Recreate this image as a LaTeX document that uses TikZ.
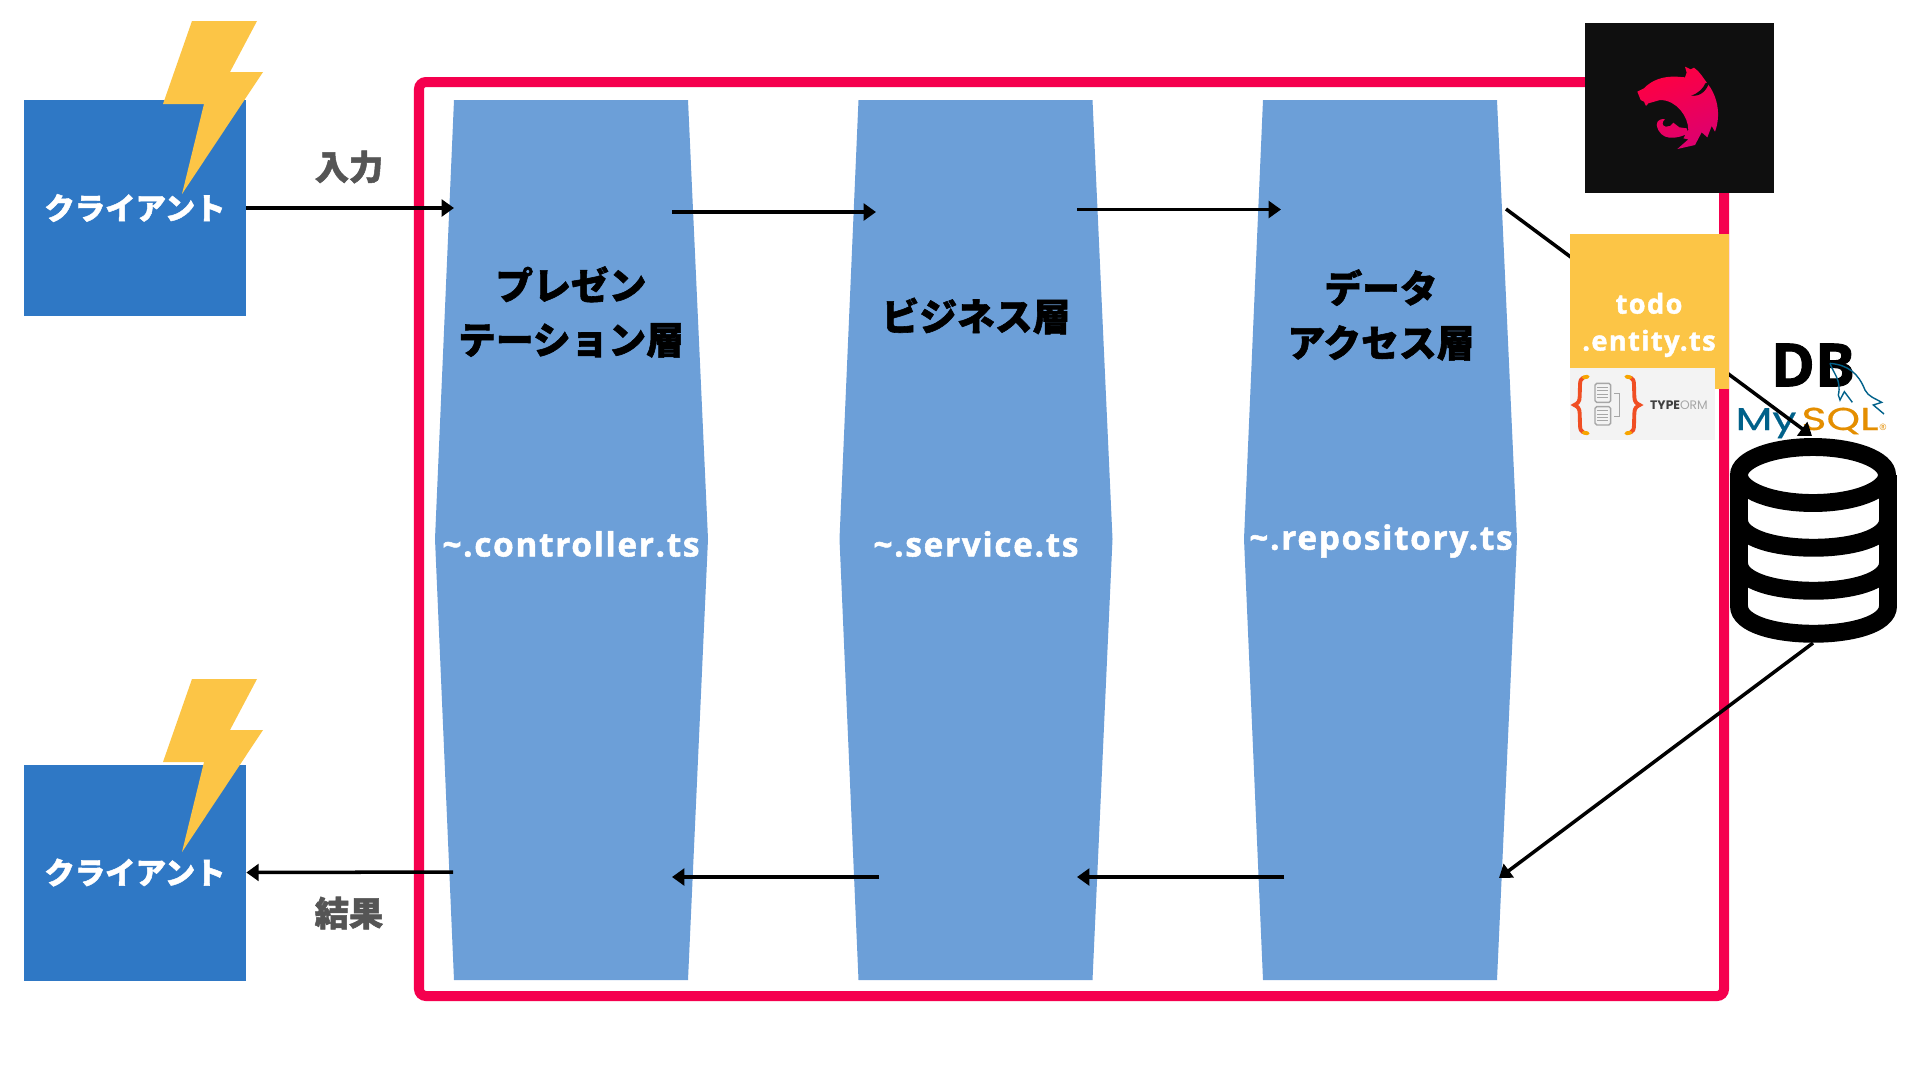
\documentclass[tikz,border=0pt]{standalone}
\usepackage{fontspec}
\usetikzlibrary{arrows.meta}
\setmainfont{Open Sans}[BoldFeatures={FakeBold=1.5}]
\newfontfamily\filefont{Open Sans}[LetterSpace=5,BoldFeatures={FakeBold=1.5}]
\newfontfamily\jpfont{Noto Sans CJK JP}[BoldFeatures={FakeBold=1.5}]
\newfontfamily\logofont{Poppins}
\newfontfamily\mysqlfont{Poppins}[FakeStretch=1.35,FakeBold=0.6]
\definecolor{clientblue}{HTML}{2F78C5}
\definecolor{layerblue}{HTML}{6C9FD8}
\definecolor{framered}{HTML}{F5004E}
\definecolor{boltyellow}{HTML}{FCC546}
\definecolor{labelgray}{HTML}{555555}
\definecolor{nestblack}{HTML}{0F0F0F}
\definecolor{nestred}{HTML}{FF0040}
\definecolor{nestpink}{HTML}{DC0070}
\definecolor{ormgray}{HTML}{F3F3F3}
\definecolor{ormred}{HTML}{F04E23}
\definecolor{ormorange}{HTML}{F7A500}
\definecolor{mysqlblue}{HTML}{00618A}
\definecolor{mysqlorange}{HTML}{E48E00}
\tikzset{
  clientbox/.style={fill=clientblue,text=white,inner sep=0pt,minimum width=222*0.02cm,minimum height=216*0.02cm,
    font=\jpfont\bfseries\fontsize{17.3}{20}\selectfont},
  flow/.style={line width=2pt,-{Triangle[length=7pt,width=9.5pt]}},
  layertitle/.style={align=center,inner sep=0pt,font=\jpfont\bfseries\fontsize{21.5}{31}\selectfont},
  layerfile/.style={text=white,inner sep=0pt,font=\filefont\bfseries\fontsize{19}{22}\selectfont},
  sidelabel/.style={text=labelgray,inner sep=0pt,font=\jpfont\bfseries\fontsize{19.5}{22}\selectfont},
  mysqlname/.style={inner sep=0pt,anchor=base,font=\mysqlfont\fontsize{18}{20}\selectfont},
  dbline/.style={line width=10.2pt},
  ormbrace/.style={ormred,line width=2.2pt},
  ormtip/.style={ormorange,line width=2.2pt,line cap=round},
  zoomed/.style={x=0.02cm/3,y=-0.02cm/3},
}
\begin{document}
\begin{tikzpicture}[x=0.02cm,y=-0.02cm]
  \fill[white] (0,0) rectangle (1920,1080);
  \useasboundingbox (0,0) rectangle (1920,1080);
  % frame
  \draw[framered,line width=5.7pt,rounded corners=4pt] (419,82) rectangle (1724,996);
  % clients
  \node[clientbox] (clienta) at (135,208) {クライアント};
  \node[clientbox] (clientb) at (135,872.5) {クライアント};
  \foreach \dy in {0,658}
    \fill[boltyellow,shift={(0,\dy)}] (192,21) -- (257,21) -- (230,72) -- (263,72) -- (182,194) -- (204,104) -- (163,104) -- cycle;
  % layers
  \foreach \dx in {0,404.5,809}
    \fill[layerblue,shift={(\dx,0)}] (454,100) -- (688,100) -- (708,539) -- (688,980) -- (454,980) -- (435,539) -- cycle;
  \node[layertitle] (presname) at (571,312) {プレゼン\\テーション層};
  \node[layertitle] (bizname) at (976,316) {ビジネス層};
  \node[layertitle] (dataname) at (1381,315) {データ\\アクセス層};
  \node[layerfile] (presfile) at (571,544) {\textasciitilde.controller.ts};
  \node[layerfile] (bizfile) at (976,544) {\textasciitilde.service.ts};
  \node[layerfile] (datafile) at (1381,541) {\textasciitilde.repository.ts};
  \node[sidelabel] (inlabel) at (349,167) {入力};
  \node[sidelabel] (outlabel) at (349,913) {結果};
  % mysql
  \node[mysqlname,text=mysqlblue] (mysqlmy) at (1766,430) {My};
  \node[mysqlname,text=mysqlorange] (mysqlsql) at (1840,430) {SQL};
  \node[inner sep=0pt,text=mysqlorange,font=\fontsize{5}{6}\selectfont] (mysqlreg) at (1883,427) {®};
  % connector ends
  \coordinate (presin) at (454,208);
  \coordinate (presout) at (672,212);
  \coordinate (bizin) at (876,212);
  \coordinate (bizout) at (1077,209.5);
  \coordinate (datain) at (1281,209.5);
  \coordinate (dataout) at (1506,209);
  \coordinate (dbtop) at (1812,436);
  \coordinate (dbbottom) at (1813,643);
  \coordinate (databack) at (1499,878);
  \coordinate (dataret) at (1284,877);
  \coordinate (bizback) at (1077,877);
  \coordinate (bizret) at (879,877);
  \coordinate (presback) at (672,877);
  \coordinate (presret) at (453,872);
  \draw[flow] (clienta.east) -- (presin);
  \draw[flow] (presout) -- (bizin);
  \draw[flow] (bizout) -- (datain);
  \draw[flow] (dataout) -- (dbtop);
  \draw[flow] (dbbottom) -- (databack);
  \draw[flow] (dataret) -- (bizback);
  \draw[flow] (bizret) -- (presback);
  \draw[flow] (presret) -- (clientb.east);
  % entity
  \node[fill=boltyellow,inner sep=0pt,minimum width=159*0.02cm,minimum height=155*0.02cm] (entity) at (1649.5,311.5) {};
  \node[text=white,align=center,inner sep=0pt,font=\filefont\bfseries\fontsize{15.5}{21}\selectfont] (entityname) at (1649,325) {todo\\.entity.ts};
  % typeorm
  \node[fill=ormgray,inner sep=0pt,minimum width=145*0.02cm,minimum height=72*0.02cm] (ormbox) at (1642.5,404) {};
  \begin{scope}[shift={(1565,340)},zoomed]
    \draw[ormbrace] (56,112) .. controls (48,115) and (45,122) .. (45,135) -- (44,170) .. controls (44,185) and (38,190) .. (28,195) .. controls (38,200) and (44,205) .. (44,220) -- (45,255) .. controls (45,268) and (48,275) .. (56,278);
    \draw[ormbrace] (196,112) .. controls (204,115) and (207,122) .. (207,135) -- (208,170) .. controls (208,185) and (214,190) .. (224,195) .. controls (214,200) and (208,205) .. (208,220) -- (207,255) .. controls (207,268) and (204,275) .. (196,278);
    \draw[ormtip] (56,112) -- (68,110);
    \draw[ormtip] (56,278) -- (68,280);
    \draw[ormtip] (196,112) -- (184,110);
    \draw[ormtip] (196,278) -- (184,280);
    \draw[gray!70,line width=0.8pt,rounded corners=1pt] (90,130) rectangle (137,187);
    \draw[gray!70,line width=0.8pt,rounded corners=1pt] (90,200) rectangle (137,255);
    \foreach \ly in {142,152,162,172,212,222,232,242}
      \draw[gray!70,line width=0.5pt] (97,\ly) -- (130,\ly);
    \draw[gray!70,line width=0.5pt] (148,160) -- (162,160) -- (162,230) -- (148,230);
  \end{scope}
  \node[inner sep=0pt,text=black!75,font=\logofont\fontsize{7}{8}\selectfont] (ormname) at (1679,405) {\textbf{TYPE}\textcolor{gray!70}{ORM}};
  % nest
  \node[fill=nestblack,inner sep=0pt,minimum width=189*0.02cm,minimum height=170*0.02cm] (nestbox) at (1679.5,108) {};
  \begin{scope}[shift={(1620,50)},zoomed]
    \shade[left color=nestred,right color=nestpink,shading angle=20]
      (52,125) -- (72,115) .. controls (95,90) and (130,78) .. (170,80) -- (195,82) -- (200,68) -- (195,50) -- (212,58) -- (222,53) .. controls (240,65) and (250,85) .. (262,100) .. controls (290,135) and (305,190) .. (285,245) -- (275,228) -- (262,262) -- (245,247) -- (225,285) -- (172,297) -- (205,268) -- (190,265) -- (205,240) .. controls (205,200) and (170,150) .. (120,150) -- (85,160) -- (78,168) -- (72,155) -- (62,150) -- cycle
      (110,225) .. controls (110,210) and (125,205) .. (135,208) .. controls (125,215) and (125,228) .. (137,230) -- (150,228) -- (160,218) -- (178,232) -- (200,235) -- (205,250) .. controls (170,268) and (120,275) .. (110,225) -- cycle;
    \fill[nestblack] (268,97) .. controls (258,125) and (240,140) .. (213,137) .. controls (235,130) and (250,115) .. (256,100) -- cycle;
  \end{scope}
  % db
  \draw[dbline] (1813,475) ellipse [x radius=74,y radius=28];
  \draw[dbline] (1739,475) -- (1739,606) .. controls (1739,643) and (1888,643) .. (1888,606) -- (1888,475);
  \draw[dbline] (1739,520) .. controls (1739,557) and (1888,557) .. (1888,520);
  \draw[dbline] (1739,563) .. controls (1739,600) and (1888,600) .. (1888,563);
  \node[inner sep=0pt,font=\bfseries\fontsize{34}{40}\selectfont] (dbname) at (1813,365) {DB};
  \begin{scope}[shift={(1565,340)},zoomed]
    \draw[mysqlblue,line width=0.8pt] (795,70) .. controls (850,75) and (880,100) .. (900,150) .. controls (910,170) and (930,175) .. (950,187) -- (925,195) -- (957,222);
    \draw[mysqlblue,line width=0.8pt] (795,70) .. controls (805,100) and (830,120) .. (820,165) -- (825,180) -- (838,155) -- (862,187);
  \end{scope}
\end{tikzpicture}
\end{document}
